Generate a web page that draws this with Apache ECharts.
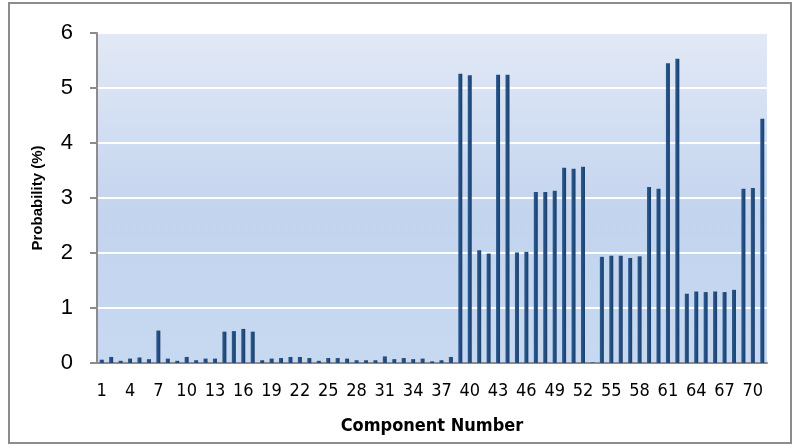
<!DOCTYPE html>
<html>
<head>
<meta charset="utf-8">
<script src="https://cdn.jsdelivr.net/npm/echarts@6/dist/echarts.min.js"></script>
<style>html,body{margin:0;padding:0;background:#fff;}#c{width:797px;height:446px;}</style>
</head>
<body>
<div id="c"></div>
<script>
var categories = [];
for (var i = 1; i <= 71; i++) categories.push(String(i));
var probability = [
  0.06, 0.11, 0.04, 0.08, 0.10, 0.07, 0.59, 0.08, 0.04, 0.11,
  0.05, 0.08, 0.08, 0.57, 0.58, 0.62, 0.57, 0.05, 0.08, 0.09,
  0.11, 0.11, 0.09, 0.04, 0.09, 0.09, 0.08, 0.05, 0.05, 0.05,
  0.12, 0.07, 0.09, 0.07, 0.08, 0.03, 0.05, 0.11, 5.26, 5.23,
  2.05, 1.99, 5.24, 5.24, 2.01, 2.02, 3.11, 3.11, 3.13, 3.55,
  3.53, 3.57, 0.01, 1.93, 1.95, 1.95, 1.91, 1.94, 3.20, 3.17,
  5.45, 5.53, 1.26, 1.30, 1.29, 1.30, 1.29, 1.33, 3.17, 3.18,
  4.44
];
var yTicks = [0, 1, 2, 3, 4, 5, 6];
var narrow = "'DejaVu Sans Condensed', Roboto, 'Liberation Sans', sans-serif";

var chart = echarts.init(document.getElementById('c'), null, {renderer: 'canvas'});
chart.setOption({
  animation: false,
  graphic: [{
    type: 'rect', silent: true,
    shape: {x: 9, y: 3, width: 782, height: 440},
    style: {fill: 'none', stroke: '#8c8c8c', lineWidth: 2}
  }],
  grid: {
    left: 97, right: 30, top: 33, bottom: 83,
    show: true, borderWidth: 0,
    backgroundColor: new echarts.graphic.LinearGradient(0, 0, 0, 1, [
      {offset: 0, color: '#e2e9f6'},
      {offset: 0.55, color: '#c3d4ee'},
      {offset: 1, color: '#c7d8f1'}
    ])
  },
  xAxis: {
    type: 'category',
    data: categories,
    name: 'Component Number',
    nameLocation: 'middle',
    nameGap: 54,
    nameTextStyle: {fontFamily: narrow, fontWeight: 'bold', fontSize: 18, color: '#000'},
    axisLine: {show: true, lineStyle: {color: '#8c8c8c', width: 2}},
    axisTick: {show: false},
    axisLabel: {interval: 2, margin: 19, fontFamily: narrow, fontSize: 18, color: '#000'}
  },
  yAxis: {
    type: 'value',
    min: 0, max: 6, interval: 1,
    name: 'Probability (%)',
    nameLocation: 'middle',
    nameGap: 52,
    nameRotate: 90,
    nameTextStyle: {fontFamily: 'Liberation Sans', fontWeight: 'bold', fontSize: 15, color: '#000'},
    axisLine: {show: true, lineStyle: {color: '#8c8c8c', width: 2}},
    axisTick: {show: true, length: 7, lineStyle: {color: '#8c8c8c', width: 2}},
    axisLabel: {
      margin: 24, fontFamily: 'Liberation Sans', fontSize: 22, color: '#000',
      formatter: function (v) { return yTicks.indexOf(v) >= 0 ? String(v) : ''; }
    },
    splitLine: {show: true, lineStyle: {color: '#ffffff', width: 2}}
  },
  series: [{
    type: 'bar',
    data: probability,
    barWidth: 4,
    itemStyle: {
      color: new echarts.graphic.LinearGradient(0, 0, 1, 0, [
        {offset: 0, color: '#2c5b92'},
        {offset: 1, color: '#1a3f6c'}
      ])
    }
  }]
});
</script>
</body>
</html>
